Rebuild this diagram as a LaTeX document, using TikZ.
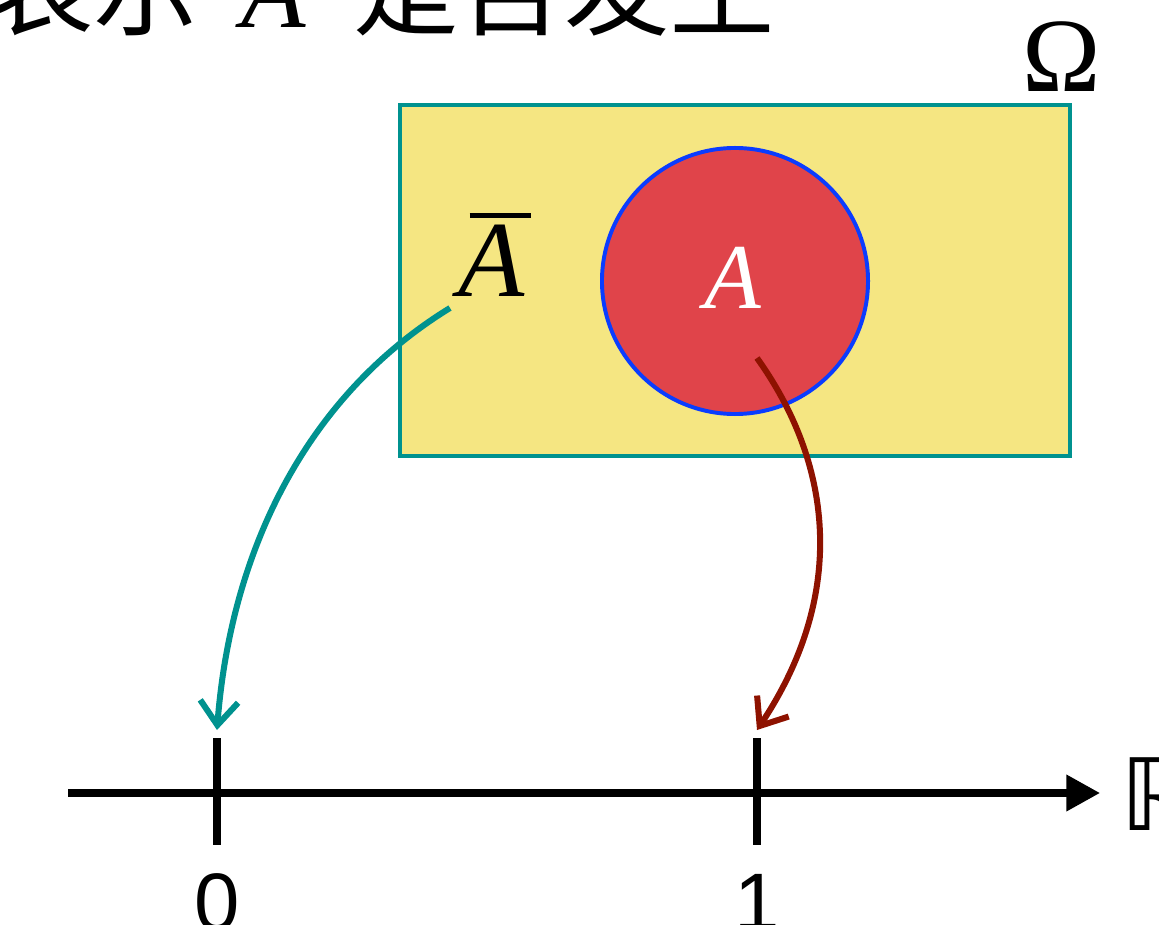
\documentclass[tikz,border=0pt]{standalone}
\usepackage{fontspec}
\setmainfont{Liberation Serif}
\newfontfamily\cjk{Noto Sans CJK SC}
\newfontfamily\arial{Liberation Sans}
\newfontfamily\dejavu{DejaVu Sans}
\usetikzlibrary{arrows.meta}
\definecolor{omfill}{HTML}{F5E682}
\definecolor{omline}{HTML}{00928F}
\definecolor{evfill}{HTML}{E0444A}
\definecolor{evline}{HTML}{0A3CFF}
\definecolor{onearr}{HTML}{8E1200}
\newcommand\barA{\setbox0\hbox{\itshape A}\vbox{\offinterlineskip\hbox{\kern.16\wd0\rule{.93\wd0}{3.6pt}}\kern5pt\box0}}

\begin{document}
\begin{tikzpicture}[x=.025cm,y=-.025cm,
  map/.style={line width=4.3pt,-{Straight Barb[length=17pt,width=27pt]}},
  tick/.style={line width=5pt},
  num/.style={font=\arial\fontsize{58}{70}\selectfont,anchor=base,inner sep=0}]
\useasboundingbox (0,0) rectangle (1159,925);
\node[anchor=base west,inner sep=0,font=\cjk\fontsize{75}{90}\selectfont] (title) at (-12,28)
  {表示\hspace{.4em}{\rmfamily\itshape A}\hspace{.45em}是否发生};
\node[draw=omline,fill=omfill,line width=2.8pt,inner sep=0,minimum width=16.75cm,minimum height=8.775cm] (Om) at (735,280.5) {};
\node[inner sep=0,font=\fontsize{75}{90}\selectfont] (omega) at (1062,57) {Ω};
\node[circle,draw=evline,fill=evfill,line width=2.8pt,inner sep=0,minimum size=6.65cm] (evA) at (735,281) {};
\node[inner sep=0,text=white,font=\fontsize{66}{80}\selectfont] (labA) at (733,278) {\itshape A};
\node[inner sep=0,font=\fontsize{77}{90}\selectfont] (Abar) at (495,255) {\barA};
\coordinate (s0) at (450,308); \coordinate (s1) at (757,358);
\coordinate (p0) at (217,730); \coordinate (p1) at (757,730);
\draw[map,omline] (s0) .. controls (300,400) and (230,560) .. (p0);
\draw[map,onearr] (s1) .. controls (830,460) and (850,590) .. (p1);
% number line
\coordinate (o) at (68,793); \coordinate (e) at (1100,793);
\draw[line width=5pt,-{Triangle[length=24pt,width=25pt]}] (o) -- (e);
\foreach \x/\n in {217/0,757/1}{\draw[tick] (\x,738) -- (\x,845); \node[num] (n\n) at (\x,930) {\n};}
\node[anchor=base west,inner sep=0,font=\dejavu\fontsize{71}{80}\selectfont] (R) at (1120,830) {ℝ};
\end{tikzpicture}
\end{document}
